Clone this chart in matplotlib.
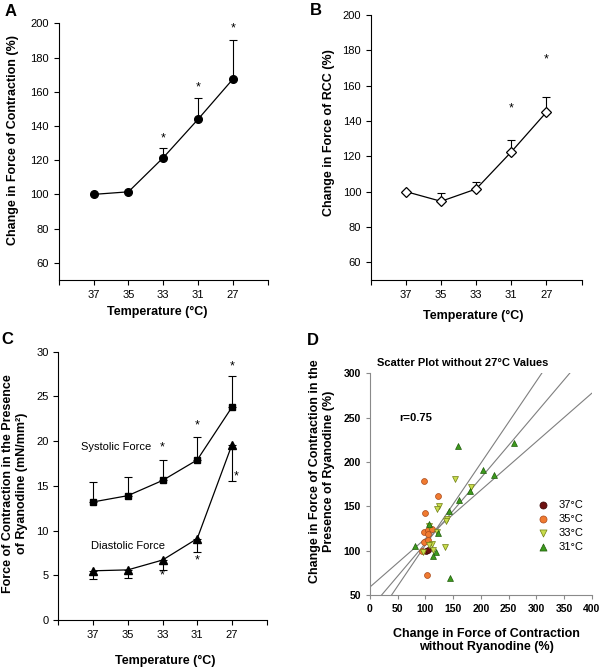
import matplotlib
matplotlib.use("Agg")
import matplotlib.pyplot as plt
import numpy as np

plt.rcParams['font.family'] = ['Liberation Sans', 'DejaVu Sans']

temps = ['37', '35', '33', '31', '27']

# panel A: change in force of contraction (%)
force_a = [100, 101.5, 121.5, 144, 167.5]
force_a_err = [0, 0, 5.5, 12.5, 23]
star_a = [None, None, 133, 162.5, 197]

# panel B: change in force of RCC (%)
rcc_b = [100, 94.5, 101.5, 122.5, 145]
rcc_b_err = [0, 4.5, 4, 7, 8.5]
star_b = [None, None, None, 147, 175]

# panel C: force in presence of ryanodine (mN/mm2)
systolic = [13.2, 13.9, 15.6, 17.9, 23.8]
systolic_err = [2.2, 2.1, 2.3, 2.6, 3.5]
systolic_star = [None, None, 19.3, 21.8, 28.3]
diastolic = [5.5, 5.6, 6.7, 9.1, 19.6]
diastolic_err = [0.9, 0.95, 1.1, 1.5, 4.1]
diastolic_star = [None, None, 5.0, 6.7, 16.0]

# panel D: scatter without 27C values
x37 = [101, 104]
y37 = [100, 101]
x35 = [97, 123, 100, 97, 104, 111, 105, 97, 105, 93, 103]
y35 = [178, 162, 142, 121, 123, 124, 119, 110, 112, 100, 72]
x33 = [154, 182, 124, 121, 139, 138, 120, 111, 113, 135, 96, 106, 107]
y33 = [181, 172, 150, 147, 136, 133, 121, 108, 101, 104, 98, 106, 128]
x31 = [159, 259, 203, 224, 180, 161, 143, 123, 107, 81, 119, 114, 144]
y31 = [218, 221, 191, 185, 167, 157, 145, 120, 130, 105, 98, 94, 69]
r_text = 'r=0.75'
fit_intercepts = [34.5, 14, 59]
fit_slopes = [0.737, 0.923, 0.546]

fig = plt.figure(figsize=(6.02, 6.68), dpi=100)

pos = np.arange(1, 6)


def style_temp_axis(ax):
    ax.spines['top'].set_visible(False)
    ax.spines['right'].set_visible(False)
    ax.set_xlim(0, 6)
    ax.set_xticks(range(7))
    ax.set_xticklabels([''] + temps + [''])
    ax.tick_params(direction='out', length=3.5, width=0.8, labelsize=8)
    ax.set_xlabel('Temperature (°C)', fontsize=9, fontweight='bold')


def add_stars(ax, stars, dx=0.0):
    for p, s in zip(pos, stars):
        if s is not None:
            ax.text(p + dx, s, '*', ha='center', va='center', fontsize=9)


def one_sided(ax, y, err, upper=True):
    # draw only the bars that have an error value
    idx = [i for i, e in enumerate(err) if e > 0]
    px = pos[idx]
    py = np.array(y)[idx]
    e = np.array(err)[idx]
    z = np.zeros(len(idx))
    yerr = [z, e] if upper else [e, z]
    ax.errorbar(px, py, yerr=yerr, fmt='none', ecolor='black', elinewidth=0.8,
                capsize=3, capthick=0.8, zorder=2)


# A
axA = fig.add_axes([0.0975, 0.581, 0.3475, 0.384])
one_sided(axA, force_a, force_a_err)
axA.plot(pos, force_a, '-o', color='black', lw=0.9, markersize=5.5, zorder=3)
add_stars(axA, star_a)
style_temp_axis(axA)
axA.set_ylim(50, 200)
axA.set_yticks(range(60, 201, 20))
axA.set_ylabel('Change in Force of Contraction (%)', fontsize=9, fontweight='bold')
axA.yaxis.set_label_coords(-0.19, 0.545)
axA.xaxis.set_label_coords(0.47, -0.10)

# B
axB = fig.add_axes([0.616, 0.581, 0.35, 0.3965])
one_sided(axB, rcc_b, rcc_b_err)
axB.plot(pos, rcc_b, '-D', color='black', mfc='white', mec='black', lw=0.9,
         markersize=5, mew=0.9, zorder=3)
add_stars(axB, star_b)
style_temp_axis(axB)
axB.set_ylim(50, 200)
axB.set_yticks(range(60, 201, 20))
axB.set_ylabel('Change in Force of RCC (%)', fontsize=9, fontweight='bold')
axB.yaxis.set_label_coords(-0.171, 0.555)
axB.xaxis.set_label_coords(0.487, -0.113)

# C
axC = fig.add_axes([0.0969, 0.0719, 0.3461, 0.4016])
one_sided(axC, systolic, systolic_err)
one_sided(axC, diastolic, diastolic_err, upper=False)
axC.plot(pos, systolic, '-s', color='black', lw=0.9, markersize=5, zorder=3)
axC.plot(pos, diastolic, '-^', color='black', lw=0.9, markersize=6, zorder=3)
add_stars(axC, systolic_star)
add_stars(axC, diastolic_star[:4] + [None])
add_stars(axC, [None] * 4 + diastolic_star[4:], dx=0.12)
axC.text(1.65, 19.3, 'Systolic Force', ha='center', va='center', fontsize=8)
axC.text(2.0, 8.3, 'Diastolic Force', ha='center', va='center', fontsize=8)
style_temp_axis(axC)
axC.set_ylim(0, 30)
axC.set_yticks(range(0, 31, 5))
axC.set_ylabel('Force of Contraction in the Presence\nof Ryanodine (mN/mm²)',
               fontsize=9, fontweight='bold')
axC.yaxis.set_label_coords(-0.145, 0.51)
axC.xaxis.set_label_coords(0.515, -0.13)

# D
axD = fig.add_axes([0.6146, 0.1093, 0.3683, 0.3319])
fx = np.array([0, 400])
for b, m in zip(fit_intercepts, fit_slopes):
    axD.plot(fx, b + m * fx, color='#7f7f7f', lw=0.8, zorder=1)
axD.scatter(x37, y37, s=18, marker='o', c='#6e1212', edgecolors='#3a0808',
            linewidths=0.5, zorder=3, label='37°C')
axD.scatter(x35, y35, s=18, marker='o', c='#f07a30', edgecolors='#a8481a',
            linewidths=0.5, zorder=3, label='35°C')
axD.scatter(x33, y33, s=18, marker='v', c='#c8dc4c', edgecolors='#6f7d12',
            linewidths=0.5, zorder=3, label='33°C')
axD.scatter(x31, y31, s=18, marker='^', c='#3c9a1c', edgecolors='#1f5a0a',
            linewidths=0.5, zorder=3, label='31°C')
axD.set_xlim(0, 400)
axD.set_ylim(50, 300)
axD.set_xticks(range(0, 401, 50))
axD.set_yticks(range(50, 301, 50))
for s in ['top', 'right']:
    axD.spines[s].set_visible(False)
for s in ['left', 'bottom']:
    axD.spines[s].set_color('#8a8a8a')
axD.tick_params(direction='out', length=3, width=0.8, color='#8a8a8a', labelsize=7.5)
for lab in axD.get_xticklabels() + axD.get_yticklabels():
    lab.set_fontweight('bold')
axD.text(0.42, 1.046, 'Scatter Plot without 27°C Values', transform=axD.transAxes,
         ha='center', va='center', fontsize=8, fontweight='bold')
axD.text(83, 250, r_text, ha='center', va='center', fontsize=8, fontweight='bold')
axD.legend(loc='upper left', bbox_to_anchor=(0.754, 0.43), frameon=False,
           fontsize=8, handlelength=1, handletextpad=0.9, labelspacing=0.38,
           borderpad=0, borderaxespad=0, markerscale=1.2)
axD.set_ylabel('Change in Force of Contraction in the\nPresence of Ryanodine (%)',
               fontsize=9, fontweight='bold')
axD.set_xlabel('Change in Force of Contraction\nwithout Ryanodine (%)',
               fontsize=9, fontweight='bold')
axD.yaxis.set_label_coords(-0.16, 0.56)
axD.xaxis.set_label_coords(0.526, -0.147)

fig.text(0.007, 0.994, 'A', fontsize=12, fontweight='bold', va='top')
fig.text(0.515, 0.995, 'B', fontsize=12, fontweight='bold', va='top')
fig.text(0.003, 0.503, 'C', fontsize=12, fontweight='bold', va='top')
fig.text(0.51, 0.502, 'D', fontsize=12, fontweight='bold', va='top')

fig.savefig('out.png', dpi=100)
